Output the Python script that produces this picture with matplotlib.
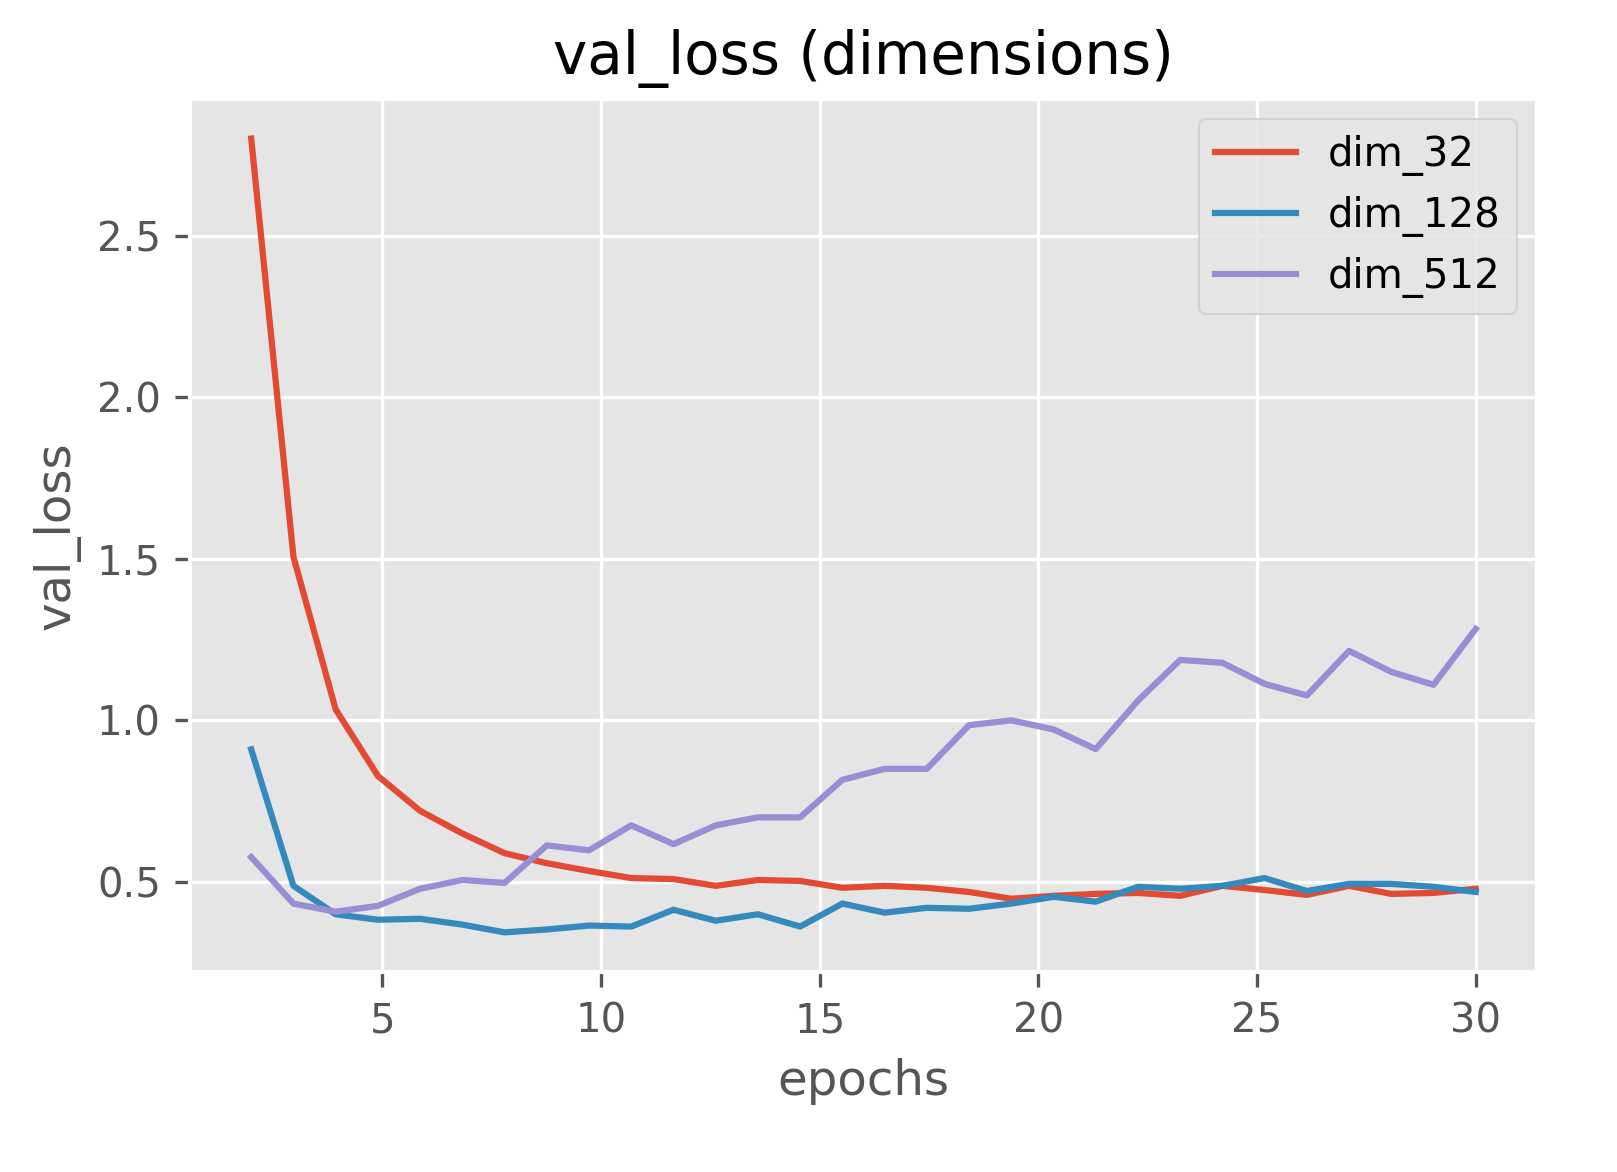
import numpy as np
import matplotlib
matplotlib.use("Agg")
import matplotlib.pyplot as plt

plt.style.use("ggplot")
plt.rcParams['font.size'] = 9.65

epochs = np.linspace(2, 30, 30)
dim_32 = [2.80, 1.506, 1.034, 0.828, 0.72, 0.65, 0.589, 0.558, 0.534, 0.512, 0.509, 0.488, 0.506, 0.503, 0.482,
          0.488, 0.482, 0.469, 0.448, 0.457, 0.463, 0.466, 0.457, 0.488, 0.475, 0.46, 0.488, 0.463, 0.466, 0.479]
dim_128 = [0.91, 0.488, 0.40, 0.383, 0.386, 0.368, 0.344, 0.353, 0.365, 0.362, 0.414, 0.38, 0.40, 0.362, 0.433,
           0.405, 0.42, 0.417, 0.433, 0.454, 0.439, 0.485, 0.479, 0.488, 0.512, 0.472, 0.494, 0.494, 0.485, 0.469]
dim_512 = [0.577, 0.433, 0.408, 0.426, 0.479, 0.506, 0.497, 0.613, 0.598, 0.675, 0.617, 0.675, 0.70, 0.70, 0.816,
           0.85, 0.85, 0.985, 1.0, 0.972, 0.911, 1.061, 1.187, 1.178, 1.113, 1.077, 1.215, 1.15, 1.11, 1.283]

fig = plt.figure(figsize=(1617/300, 1172/300), dpi=300)
ax = fig.add_axes([0.1175, 0.1706, 0.833, 0.745])
ax.plot(epochs, dim_32, label="dim_32")
ax.plot(epochs, dim_128, label="dim_128")
ax.plot(epochs, dim_512, label="dim_512")
ax.set_title("val_loss (dimensions)")
ax.set_xlabel("epochs")
ax.set_ylabel("val_loss")
ax.set_yticks([0.5, 1.0, 1.5, 2.0, 2.5])
ax.legend(loc="upper right")
fig.savefig("out.png", dpi=300)
